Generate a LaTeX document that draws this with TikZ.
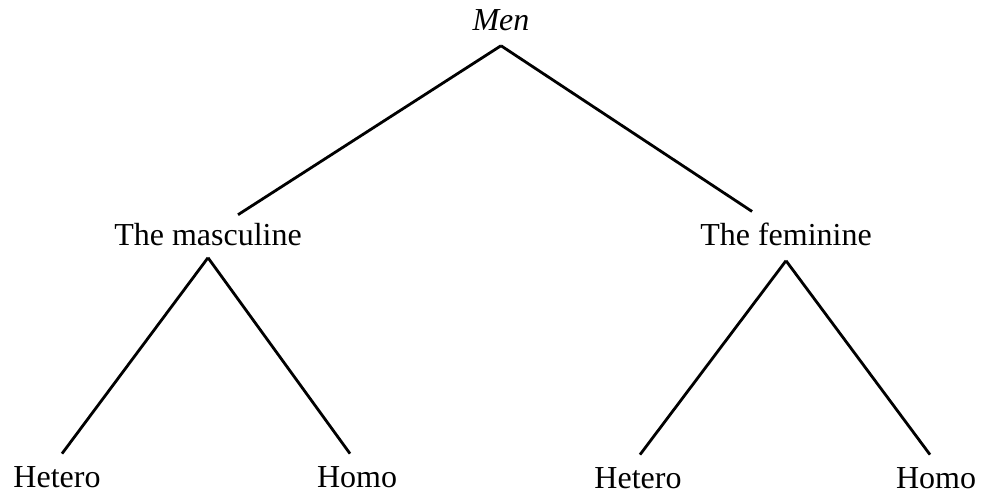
\documentclass[tikz,border=0pt]{standalone}
\usepackage{fontspec}
\setmainfont{Liberation Serif}
\usetikzlibrary{positioning}

\begin{document}
\begin{tikzpicture}[
    x=0.5pt, y=-0.5pt,
    word/.style={anchor=base, inner sep=6pt, font=\fontsize{16}{18}\selectfont},
    branch/.style={line width=1.4pt}
]
\useasboundingbox (0,0) rectangle (986,493);
\node[word, inner sep=7.5pt] (men) at (501,30) {\textit{Men}};
\node[word] (masc) at (208,245) {The masculine};
\node[word, inner sep=7.5pt] (fem) at (786,245) {The feminine};
\node[word] (mhet) at (57,487) {Hetero};
\node[word] (mhom) at (357,487) {Homo};
\node[word] (fhet) at (638,488) {Hetero};
\node[word] (fhom) at (936,488) {Homo};

\draw[branch, shorten >=-4pt] (men.south) -- (masc);
\draw[branch, shorten >=-4pt] (men.south) -- (fem);
\draw[branch] (masc.south) -- ([xshift=2.5pt]mhet.north);
\draw[branch] (masc.south) -- ([xshift=-3.5pt]mhom.north);
\draw[branch] (fem.south) -- ([xshift=1pt]fhet.north);
\draw[branch] (fem.south) -- ([xshift=-3pt]fhom.north);
\end{tikzpicture}
\end{document}
